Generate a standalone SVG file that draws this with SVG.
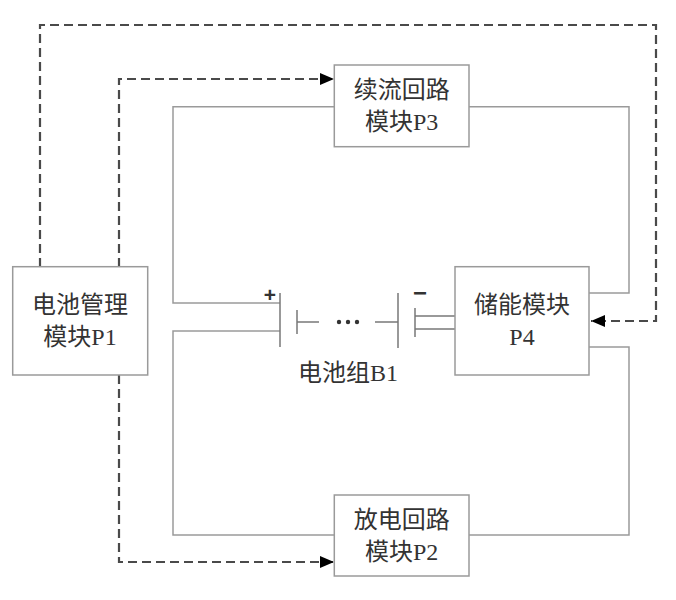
<svg xmlns="http://www.w3.org/2000/svg" width="676" height="600" viewBox="0 0 676 600">
<style>
.box{fill:#fff;stroke:#9a9a9a;stroke-width:1.5}
.wire{fill:none;stroke:#9a9a9a;stroke-width:1.5}
.ctl{fill:none;stroke:#4a4a4a;stroke-width:2.2;stroke-dasharray:9 5}
.plate{stroke:#777;stroke-width:1.5}
.t{font-family:"Liberation Serif","Noto Sans CJK SC",serif;font-size:24px;fill:#333;text-anchor:middle}
.s{font-family:"Liberation Sans","Noto Sans CJK SC",sans-serif;font-weight:bold;fill:#333;text-anchor:middle}
</style>
<defs>
<marker id="arr" viewBox="0 0 14 12" refX="14" refY="6" markerWidth="14" markerHeight="12" markerUnits="userSpaceOnUse" orient="auto">
<path d="M0,0 L14,6 L0,12 Z" fill="#000"/>
</marker>
</defs>
<rect width="676" height="600" fill="#fff"/>
<g id="connectors">
<path class="wire" d="M334,106.7 H173 V303 H280"/>
<path class="wire" d="M469,106.7 H629 V293 H589"/>
<path class="wire" d="M280,331 H173 V535 H334"/>
<path class="wire" d="M469,535 H629 V347 H589"/>
<path class="ctl" d="M40,267 V25 H656 V321 H591" marker-end="url(#arr)"/>
<path class="ctl" d="M119,267 V79 H334" marker-end="url(#arr)"/>
<path class="ctl" d="M119,375 V562 H334" marker-end="url(#arr)"/>
</g>
<g id="B1">
<line class="plate" x1="280" y1="293" x2="280" y2="347"/>
<line class="plate" x1="297" y1="310" x2="297" y2="334"/>
<line class="plate" x1="297" y1="322" x2="319" y2="322"/>
<circle cx="339" cy="322" r="2.2" fill="#333"/>
<circle cx="348" cy="322" r="2.2" fill="#333"/>
<circle cx="357" cy="322" r="2.2" fill="#333"/>
<line class="plate" x1="375" y1="322" x2="398" y2="322"/>
<line class="plate" x1="398" y1="293" x2="398" y2="348"/>
<line class="plate" x1="415" y1="308" x2="415" y2="337"/>
<line class="plate" x1="415" y1="316" x2="455" y2="316"/>
<line class="plate" x1="415" y1="329" x2="455" y2="329"/>
<text class="s" x="270" y="302" font-size="21">+</text>
<text class="s" x="420" y="301" font-size="24">−</text>
<text class="t" x="348" y="381" font-size="23">电池组B1</text>
</g>
<g id="P1">
<rect class="box" x="12.7" y="266.7" width="135" height="108.3"/>
<text class="t" x="80" y="313">电池管理</text>
<text class="t" x="80" y="345">模块P1</text>
</g>
<g id="P3">
<rect class="box" x="334.3" y="65" width="134.7" height="81.7"/>
<text class="t" x="401.7" y="98">续流回路</text>
<text class="t" x="401.7" y="130">模块P3</text>
</g>
<g id="P4">
<rect class="box" x="455" y="266.7" width="134" height="108.3"/>
<text class="t" x="522" y="313">储能模块</text>
<text class="t" x="522" y="345">P4</text>
</g>
<g id="P2">
<rect class="box" x="334.3" y="495" width="134.7" height="81"/>
<text class="t" x="401.7" y="528">放电回路</text>
<text class="t" x="401.7" y="560">模块P2</text>
</g>
</svg>
